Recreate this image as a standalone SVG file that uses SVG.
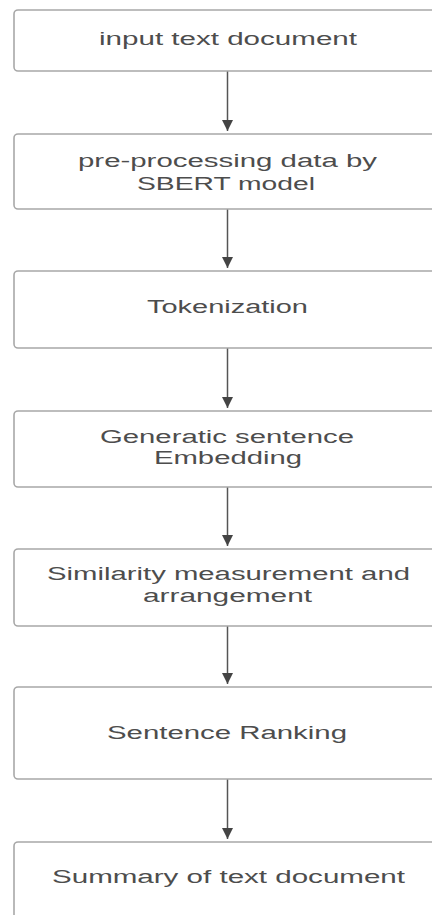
<svg xmlns="http://www.w3.org/2000/svg" width="432" height="915" viewBox="0 0 432 915">
<defs>
<style>
.box{fill:#ffffff;stroke:#a8a8a8;stroke-width:1.6}
.lbl{font-family:"Liberation Sans",Arial,sans-serif;font-size:18px;fill:#4d4d4d;text-anchor:middle}
.conn{stroke:#555555;stroke-width:1.5;fill:none}
</style>
<marker id="ah" viewBox="0 0 10 10" refX="10" refY="5" markerWidth="11" markerHeight="11" markerUnits="userSpaceOnUse" orient="auto">
<path d="M0,0 L10,5 L0,10 Z" fill="#444444"/>
</marker>
</defs>
<rect width="432" height="915" fill="#ffffff"/>
<g id="connectors">
<line class="conn" x1="227.5" y1="71" x2="227.5" y2="131" marker-end="url(#ah)"/>
<line class="conn" x1="227.5" y1="209" x2="227.5" y2="268" marker-end="url(#ah)"/>
<line class="conn" x1="227.5" y1="348" x2="227.5" y2="408" marker-end="url(#ah)"/>
<line class="conn" x1="227.5" y1="487" x2="227.5" y2="546" marker-end="url(#ah)"/>
<line class="conn" x1="227.5" y1="626" x2="227.5" y2="684" marker-end="url(#ah)"/>
<line class="conn" x1="227.5" y1="779" x2="227.5" y2="839" marker-end="url(#ah)"/>
</g>
<g id="n1">
<rect class="box" x="14" y="10" width="440" height="61" rx="4"/>
<text class="lbl" x="228" y="45" textLength="258" lengthAdjust="spacingAndGlyphs">input text document</text>
</g>
<g id="n2">
<rect class="box" x="14" y="134" width="440" height="75" rx="4"/>
<text class="lbl" x="227.5" y="167" textLength="299" lengthAdjust="spacingAndGlyphs">pre-processing data by</text>
<text class="lbl" x="226" y="190" textLength="178" lengthAdjust="spacingAndGlyphs">SBERT model</text>
</g>
<g id="n3">
<rect class="box" x="14" y="271" width="440" height="77" rx="4"/>
<text class="lbl" x="227.5" y="313" textLength="161" lengthAdjust="spacingAndGlyphs">Tokenization</text>
</g>
<g id="n4">
<rect class="box" x="14" y="411" width="440" height="76" rx="4"/>
<text class="lbl" x="227" y="443" textLength="254" lengthAdjust="spacingAndGlyphs">Generatic sentence</text>
<text class="lbl" x="228" y="464" textLength="148" lengthAdjust="spacingAndGlyphs">Embedding</text>
</g>
<g id="n5">
<rect class="box" x="14" y="549" width="440" height="77" rx="4"/>
<text class="lbl" x="228.5" y="580" textLength="363" lengthAdjust="spacingAndGlyphs">Similarity measurement and</text>
<text class="lbl" x="227.5" y="602" textLength="169" lengthAdjust="spacingAndGlyphs">arrangement</text>
</g>
<g id="n6">
<rect class="box" x="14" y="687" width="440" height="92" rx="4"/>
<text class="lbl" x="227" y="739" textLength="240" lengthAdjust="spacingAndGlyphs">Sentence Ranking</text>
</g>
<g id="n7">
<rect class="box" x="14" y="842" width="440" height="100" rx="4"/>
<text class="lbl" x="228.5" y="883" textLength="353" lengthAdjust="spacingAndGlyphs">Summary of text document</text>
</g>
</svg>
